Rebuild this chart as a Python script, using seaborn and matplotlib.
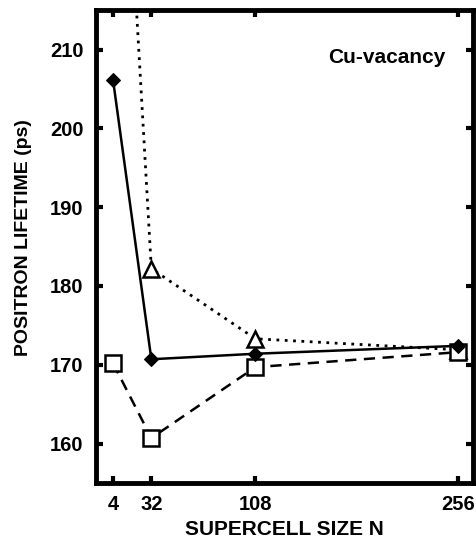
import pandas as pd
import seaborn as sns
import matplotlib.pyplot as plt

# Supercell sizes and positron lifetimes (ps)
supercell_n = [4, 32, 108, 256]
lifetime_diamond = [206.2, 170.7, 171.4, 172.4]
lifetime_triangle = [267.0, 182.2, 173.3, 171.9]
lifetime_square = [170.2, 160.7, 169.7, 171.6]

x_ticks = [4, 32, 108, 256]
y_ticks = [160, 170, 180, 190, 200, 210]

sns.set_theme(style="ticks")
plt.rcParams['font.family'] = ['Liberation Sans', 'DejaVu Sans']
plt.rcParams['font.weight'] = 'bold'
plt.rcParams['text.color'] = 'black'
plt.rcParams['xtick.color'] = 'black'
plt.rcParams['ytick.color'] = 'black'
plt.rcParams['axes.labelcolor'] = 'black'

df = pd.DataFrame({
    "N": supercell_n,
    "diamond": lifetime_diamond,
    "triangle": lifetime_triangle,
    "square": lifetime_square,
})

fig = plt.figure(figsize=(4.77, 5.39), dpi=100)
ax = fig.add_axes([0.201, 0.104, 0.791, 0.877])

# dotted line with open triangles
sns.lineplot(data=df, x="N", y="triangle", ax=ax, color="black",
             linestyle=(0, (1, 2.0)), linewidth=2.0, marker="^", markersize=11,
             markerfacecolor="white", markeredgecolor="black", markeredgewidth=1.8)
# dashed line with open squares
sns.lineplot(data=df, x="N", y="square", ax=ax, color="black",
             linestyle=(0, (4.5, 3)), linewidth=1.8, marker="s", markersize=12,
             markerfacecolor="white", markeredgecolor="black", markeredgewidth=1.8)
# solid line with filled diamonds
sns.lineplot(data=df, x="N", y="diamond", ax=ax, color="black",
             linestyle="-", linewidth=1.8, marker="D", markersize=7,
             markerfacecolor="black", markeredgecolor="black")

ax.set_xlim(-8.5, 267)
ax.set_ylim(155, 215)
ax.set_xticks(x_ticks)
ax.set_yticks(y_ticks)
ax.tick_params(direction="in", length=5, width=3, top=True, right=True,
               labelsize=14.5, pad=9, colors="black")
for lab in ax.get_xticklabels() + ax.get_yticklabels():
    lab.set_fontweight("bold")

for side in ["left", "bottom", "top", "right"]:
    ax.spines[side].set_linewidth(3.5)
    ax.spines[side].set_color("black")

ax.set_xlabel("SUPERCELL SIZE N", fontsize=15, fontweight="bold")
ax.xaxis.set_label_coords(0.5, -0.078)
ax.set_ylabel("POSITRON LIFETIME (ps)", fontsize=14, fontweight="bold")
ax.yaxis.set_label_coords(-0.17, 0.52)

ax.text(0.925, 0.90, "Cu-vacancy", transform=ax.transAxes, ha="right", va="center",
        fontsize=15, fontweight="bold")

fig.savefig("out.png", dpi=100)
